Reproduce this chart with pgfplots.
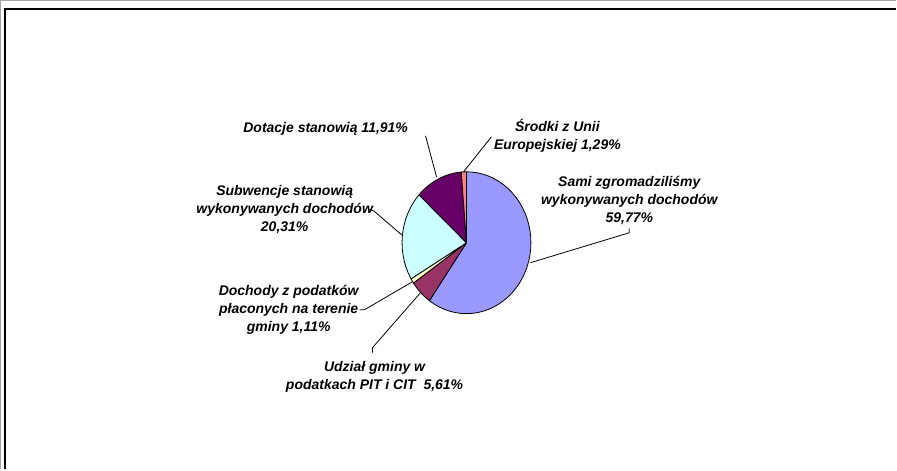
\documentclass[border=0pt]{standalone}
\usepackage{fontspec}
\setmainfont{Liberation Sans}
\usepackage{pgfplots}
\pgfplotsset{compat=1.18}

\definecolor{sami}{HTML}{9999FF}
\definecolor{udzial}{HTML}{993366}
\definecolor{dochody}{HTML}{FFFFCC}
\definecolor{subw}{HTML}{CCFFFF}
\definecolor{dotacje}{HTML}{660066}
\definecolor{srodki}{HTML}{FF8080}

\tikzset{lbl/.style={align=center, font=\bfseries\itshape\fontsize{7}{9}\selectfont, inner sep=0pt}}

\begin{document}
\begin{tikzpicture}
% page in pixel units (1px = 0.5pt), y downwards
\begin{axis}[
    at={(0,0)}, anchor=south west,
    width=448.5pt, height=235pt, scale only axis,
    xmin=0, xmax=897, ymin=0, ymax=470, y dir=reverse,
    hide axis, clip=false,
]
\addplot[draw=black!35, line width=0.5pt] coordinates {(0.5,470) (0.5,0.5) (897,0.5)};
\addplot[black, line width=1pt] coordinates {(5,470) (5,9) (897,9)};
% leader lines
\addplot[black, line width=0.4pt] coordinates {(531,263) (630,233) (630,229)};
\addplot[black, line width=0.4pt] coordinates {(492,137) (464,172)};
\addplot[black, line width=0.4pt] coordinates {(426,136) (437,177)};
\addplot[black, line width=0.4pt] coordinates {(369,210) (374,211) (402,235)};
\addplot[black, line width=0.4pt] coordinates {(360,310) (365,310) (413,282)};
\addplot[black, line width=0.4pt] coordinates {(373,353) (373,348) (421,293)};
% labels
\node[lbl] at (axis cs:630,201) {Sami zgromadziliśmy\\wykonywanych dochodów\\59,77\%};
\node[lbl] at (axis cs:558,136) {Środki z Unii\\Europejskiej 1,29\%};
\node[lbl] at (axis cs:326,129) {Dotacje stanowią 11,91\%};
\node[lbl] at (axis cs:285,210) {Subwencje stanowią\\wykonywanych dochodów\\20,31\%};
\node[lbl] at (axis cs:289,310) {Dochody z podatków\\płaconych na terenie\\gminy 1,11\%};
\node[lbl] at (axis cs:375,377) {Udział gminy w\\podatkach PIT i CIT\ \ 5,61\%};
\end{axis}
% the pie: angles from 90 deg clockwise, shares 59.77, 5.61, 1.11, 20.31, 11.91, 1.29
\begin{axis}[
    at={(233.5pt,113.5pt)}, anchor=center,
    width=64.5pt, height=71pt, scale only axis,
    xmin=-1, xmax=1, ymin=-1, ymax=1,
    hide axis, clip=false,
    every axis plot/.append style={data cs=polar, draw=black, line width=0.4pt, line join=round},
]
\addplot[fill=sami] coordinates {(0,0) (90,1) (85,1) (80,1) (75,1) (70,1) (65,1) (60,1) (55,1) (50,1) (45,1) (40,1) (35,1) (30,1) (25,1) (20,1) (15,1) (10,1) (5,1) (0,1) (-5,1) (-10,1) (-15,1) (-20,1) (-25,1) (-30,1) (-35,1) (-40,1) (-45,1) (-50,1) (-55,1) (-60,1) (-65,1) (-70,1) (-75,1) (-80,1) (-85,1) (-90,1) (-95,1) (-100,1) (-105,1) (-110,1) (-115,1) (-120,1) (-125.17,1) (0,0)};
\addplot[fill=udzial] coordinates {(0,0) (-125.17,1) (-130,1) (-135,1) (-140,1) (-145.37,1) (0,0)};
\addplot[fill=dochody] coordinates {(0,0) (-145.37,1) (-149.36,1) (0,0)};
\addplot[fill=subw] coordinates {(0,0) (-149.36,1) (-155,1) (-160,1) (-165,1) (-170,1) (-175,1) (-180,1) (-185,1) (-190,1) (-195,1) (-200,1) (-205,1) (-210,1) (-215,1) (-220,1) (-222.48,1) (0,0)};
\addplot[fill=dotacje] coordinates {(0,0) (-222.48,1) (-225,1) (-230,1) (-235,1) (-240,1) (-245,1) (-250,1) (-255,1) (-260,1) (-265.36,1) (0,0)};
\addplot[fill=srodki] coordinates {(0,0) (-265.36,1) (-270,1) (0,0)};
\end{axis}
\end{tikzpicture}
\end{document}
